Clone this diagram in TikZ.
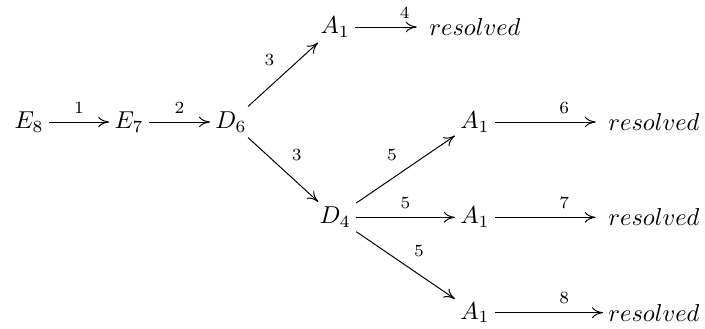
\documentclass[tikz,border=0pt]{standalone}
\usepackage{amsmath}
\usetikzlibrary{positioning,arrows.meta}
\tikzset{grp/.style={inner sep=2pt}, num/.style={font=\scriptsize}}

\begin{document}
\begin{tikzpicture}[>={To[length=4.5pt,width=4.4pt]}]
\useasboundingbox (-0.417,-2.974) rectangle (9.713,1.753);
% main chain
\draw node (e8) at (0,0) [grp]{$E_8$};
\draw node (e7) at (1.437,0) [grp]{$E_7$};
\draw node (d6) at (2.902,0) [grp]{$D_6$};
\draw node (a0) at (4.40,1.365) [grp]{$A_1$};
\draw node (r0) at (6.408,1.365) [grp]{$resolved$};
\draw node (d4) at (4.40,-1.37) [grp]{$D_4$};
\draw node foreach \y/\n in {0/1,-1.37/2,-2.74/3} (a\n) at (6.408,\y) [grp]{$A_1$};
\draw node foreach \y/\n in {0/1,-1.37/2,-2.74/3} (r\n) at (8.98,\y) [grp]{$resolved$};

\draw[->] (e8) -- node[num,above]{1} (e7);
\draw[->] (e7) -- node[num,above]{2} (d6);
\draw[->] (d6) -- node[num,above left]{3} (a0);
\draw[->] (d6) -- node[num,above right]{3} (d4);
\draw[->,shorten >=3pt] (a0) -- node[num,above,pos=0.72]{4} (r0);
\draw[->] (d4) -- node[num,above left]{5} (a1);
\draw[->] (d4) -- node[num,above]{5} (a2);
\draw[->] (d4) -- node[num,above right]{5} (a3);
\draw[->,shorten >=3pt] (a1) -- node[num,above,pos=0.64]{6} (r1);
\draw[->,shorten >=3pt] (a2) -- node[num,above,pos=0.64]{7} (r2);
\draw[->] (a3) -- node[num,above,pos=0.64]{8} (r3);
\end{tikzpicture}
\end{document}
